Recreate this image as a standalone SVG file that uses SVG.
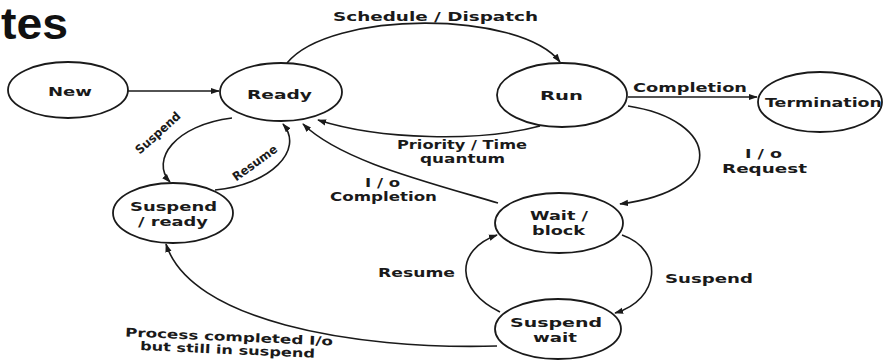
<svg xmlns="http://www.w3.org/2000/svg" width="889" height="360" viewBox="0 0 889 360">
<defs>
<style>
.node{fill:#fff;stroke:#1a1a1a;stroke-width:1.8}
.edge{fill:none;stroke:#1a1a1a;stroke-width:1.6;marker-end:url(#ah)}
.t{font-family:"DejaVu Sans","Liberation Sans",sans-serif;font-weight:bold;font-size:12px;fill:#1a1a1a}
.nt{font-family:"DejaVu Sans","Liberation Sans",sans-serif;font-weight:bold;font-size:13px;fill:#1a1a1a}
</style>
<marker id="ah" viewBox="0 0 10 10" refX="9" refY="5" markerWidth="9" markerHeight="9" markerUnits="userSpaceOnUse" orient="auto">
<path d="M0,1.5 L10,5 L0,8.5 Z" fill="#1a1a1a"/>
</marker>
</defs>
<rect width="889" height="360" fill="#fff"/>
<text x="1" y="39" font-family="Liberation Sans,Arial,sans-serif" font-size="44" font-weight="bold" fill="#111" textLength="67" lengthAdjust="spacingAndGlyphs">tes</text>

<g id="connectors">
<path class="edge" d="M128,91 L219,91"/>
<path class="edge" d="M287,63 C330,10 520,10 560,62"/>
<path class="edge" d="M540,126 C480,142 380,140 318,120"/>
<path class="edge" d="M498,203 C420,180 340,160 303,124"/>
<path class="edge" d="M628,97 L757,97"/>
<path class="edge" d="M628,106 C720,120 730,190 620,204"/>
<path class="edge" d="M232,118 C175,125 150,160 170,182"/>
<path class="edge" d="M215,190 C270,185 305,150 283,124"/>
<path class="edge" d="M500,312 C455,290 455,250 497,235"/>
<path class="edge" d="M622,235 C665,250 660,300 615,313"/>
<path class="edge" d="M497,346 C350,350 190,320 166,244"/>
</g>

<g id="labels">
<text class="t" x="333" y="21" textLength="205" lengthAdjust="spacingAndGlyphs">Schedule / Dispatch</text>
<text class="t" x="633" y="92" textLength="114" lengthAdjust="spacingAndGlyphs">Completion</text>
<text class="t" x="745" y="158" textLength="37" lengthAdjust="spacingAndGlyphs">I / o</text>
<text class="t" x="722" y="173" textLength="85" lengthAdjust="spacingAndGlyphs">Request</text>
<text class="t" x="397" y="149" textLength="130" lengthAdjust="spacingAndGlyphs">Priority / Time</text>
<text class="t" x="420" y="163" textLength="85" lengthAdjust="spacingAndGlyphs">quantum</text>
<text class="t" x="365" y="187" textLength="35" lengthAdjust="spacingAndGlyphs">I / o</text>
<text class="t" x="330" y="201" textLength="107" lengthAdjust="spacingAndGlyphs">Completion</text>
<text class="t" x="378" y="277" textLength="77" lengthAdjust="spacingAndGlyphs">Resume</text>
<text class="t" x="665" y="283" textLength="88" lengthAdjust="spacingAndGlyphs">Suspend</text>
<text class="t" x="125" y="341" textLength="208" lengthAdjust="spacingAndGlyphs" transform="rotate(2.5 229 338)">Process completed I/o</text>
<text class="t" x="140" y="354" textLength="175" lengthAdjust="spacingAndGlyphs" transform="rotate(2.5 229 350)">but still in suspend</text>
<text class="t" font-size="10" x="158" y="137" text-anchor="middle" textLength="56" lengthAdjust="spacingAndGlyphs" transform="rotate(-42 158 133)">Suspend</text>
<text class="t" font-size="10" x="255" y="167" text-anchor="middle" textLength="52" lengthAdjust="spacingAndGlyphs" transform="rotate(-36 255 163)">Resume</text>
</g>

<g id="new"><ellipse class="node" cx="68" cy="90" rx="60" ry="28"/><text class="nt" x="48" y="96" textLength="44" lengthAdjust="spacingAndGlyphs">New</text></g>
<g id="ready"><ellipse class="node" cx="281" cy="92" rx="61" ry="29"/><text class="nt" x="247" y="99" textLength="65" lengthAdjust="spacingAndGlyphs">Ready</text></g>
<g id="run"><ellipse class="node" cx="562" cy="95" rx="65" ry="32"/><text class="nt" x="540" y="100" textLength="43" lengthAdjust="spacingAndGlyphs">Run</text></g>
<g id="termination"><ellipse class="node" cx="820" cy="102" rx="62" ry="30"/><text class="nt" x="765" y="107" textLength="117" lengthAdjust="spacingAndGlyphs">Termination</text></g>
<g id="suspend-ready"><ellipse class="node" cx="173" cy="213" rx="60" ry="30"/><text class="nt" x="130" y="211" textLength="87" lengthAdjust="spacingAndGlyphs">Suspend</text><text class="nt" x="138" y="226" textLength="70" lengthAdjust="spacingAndGlyphs">/ ready</text></g>
<g id="wait-block"><ellipse class="node" cx="559" cy="223" rx="64" ry="30"/><text class="nt" x="530" y="220" textLength="58" lengthAdjust="spacingAndGlyphs">Wait /</text><text class="nt" x="532" y="235" textLength="53" lengthAdjust="spacingAndGlyphs">block</text></g>
<g id="suspend-wait"><ellipse class="node" cx="558" cy="329" rx="63" ry="30"/><text class="nt" x="510" y="327" textLength="92" lengthAdjust="spacingAndGlyphs">Suspend</text><text class="nt" x="533" y="342" textLength="44" lengthAdjust="spacingAndGlyphs">wait</text></g>
</svg>
